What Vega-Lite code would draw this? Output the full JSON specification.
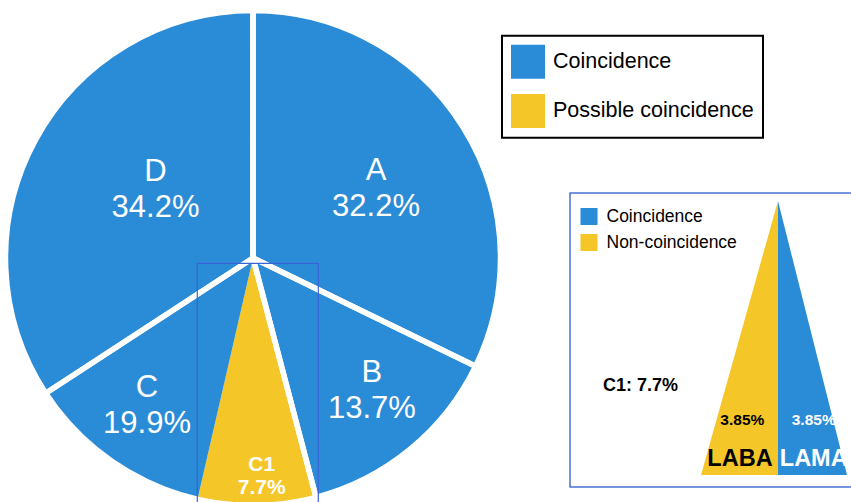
{
  "$schema": "https://vega.github.io/schema/vega-lite/v6.json",
  "width": 851,
  "height": 502,
  "autosize": {"type": "none"},
  "padding": 0,
  "background": "white",
  "config": {
    "view": {"stroke": null},
    "font": "Liberation Sans",
    "text": {"font": "Liberation Sans"},
    "legend": {"strokeWidth": 2, "labelFont": "Liberation Sans"}
  },
  "datasets": {
    "slices": [
      {"slice": "A", "label": "A\n32.2%", "share": 32.2, "type": "Coincidence"},
      {"slice": "B", "label": "B\n13.7%", "share": 13.7, "type": "Coincidence"},
      {"slice": "C1", "label": "C1\n7.7%", "share": 7.7, "type": "Possible coincidence"},
      {"slice": "C2", "label": "C\n19.9%", "share": 12.2, "type": "Coincidence"},
      {"slice": "D", "label": "D\n34.2%", "share": 34.2, "type": "Coincidence"}
    ],
    "groups": [
      {"slice": "A", "share": 32.2},
      {"slice": "B", "share": 13.7},
      {"slice": "C", "share": 19.9},
      {"slice": "D", "share": 34.2}
    ],
    "triangle": [
      {"drug": "LABA", "type": "Non-coincidence", "x": 1.8361, "top": -0.8893, "base": -0.8893},
      {"drug": "LABA", "type": "Non-coincidence", "x": 2.1516, "top": 0.2336, "base": -0.8893},
      {"drug": "LAMA", "type": "Coincidence", "x": 2.1516, "top": 0.2336, "base": -0.8893},
      {"drug": "LAMA", "type": "Coincidence", "x": 2.4344, "top": -0.8893, "base": -0.8893}
    ]
  },
  "resolve": {"scale": {"color": "independent"}, "legend": {"color": "independent"}},
  "layer": [
    {
      "data": {"name": "slices"},
      "mark": {"type": "arc", "outerRadius": 247.5},
      "encoding": {
        "x": {"datum": 0, "type": "quantitative", "scale": {"domain": [-1.0369, 2.4508], "nice": false, "zero": false}, "axis": null},
        "y": {"datum": 0, "type": "quantitative", "scale": {"domain": [-1.0, 1.0574], "nice": false, "zero": false}, "axis": null},
        "theta": {"field": "share", "type": "quantitative", "stack": true},
        "order": {"field": "slice", "type": "ordinal"},
        "detail": {"field": "slice"},
        "color": {
          "field": "type", "type": "nominal",
          "scale": {"domain": ["Coincidence", "Possible coincidence"], "range": ["#2A8BD6", "#F5C628"]},
          "legend": {
            "title": null, "orient": "none", "legendX": 502, "legendY": 35.7,
            "symbolType": "square", "symbolSize": 1156, "symbolStrokeWidth": 0, "symbolOpacity": 1,
            "labelFontSize": 21.5, "labelColor": "black", "labelOffset": 8, "rowPadding": 15.3,
            "padding": 9, "strokeColor": "black", "fillColor": "white", "labelLimit": 400
          }
        }
      }
    },
    {
      "data": {"name": "groups"},
      "mark": {"type": "arc", "outerRadius": 247.5, "filled": false, "stroke": "white", "strokeWidth": 5.5, "strokeJoin": "round"},
      "encoding": {
        "x": {"datum": 0, "type": "quantitative"},
        "y": {"datum": 0, "type": "quantitative"},
        "theta": {"field": "share", "type": "quantitative", "stack": true},
        "order": {"field": "slice", "type": "ordinal"},
        "detail": {"field": "slice"}
      }
    },
    {
      "data": {"name": "slices"},
      "mark": {"type": "text", "radius": 141.4, "dx": 3.2, "dy": -11.7, "fontSize": 31, "lineHeight": 36, "lineBreak": "\n", "color": "white", "align": "center", "baseline": "middle"},
      "encoding": {
        "x": {"datum": 0, "type": "quantitative"},
        "y": {"datum": 0, "type": "quantitative"},
        "theta": {"field": "share", "type": "quantitative", "stack": true},
        "order": {"field": "slice", "type": "ordinal"},
        "detail": {"field": "slice"},
        "text": {"condition": {"test": "datum.slice === 'A'", "field": "label"}, "value": ""}
      }
    },
    {
      "data": {"name": "slices"},
      "mark": {"type": "text", "radius": 177.7, "dx": 6.1, "dy": -22.2, "fontSize": 31, "lineHeight": 36, "lineBreak": "\n", "color": "white", "align": "center", "baseline": "middle"},
      "encoding": {
        "x": {"datum": 0, "type": "quantitative"},
        "y": {"datum": 0, "type": "quantitative"},
        "theta": {"field": "share", "type": "quantitative", "stack": true},
        "order": {"field": "slice", "type": "ordinal"},
        "detail": {"field": "slice"},
        "text": {"condition": {"test": "datum.slice === 'B'", "field": "label"}, "value": ""}
      }
    },
    {
      "data": {"name": "slices"},
      "mark": {"type": "text", "radius": 181, "dx": -2.4, "dy": -18.7, "fontSize": 31, "lineHeight": 36, "lineBreak": "\n", "color": "white", "align": "center", "baseline": "middle"},
      "encoding": {
        "x": {"datum": 0, "type": "quantitative"},
        "y": {"datum": 0, "type": "quantitative"},
        "theta": {"field": "share", "type": "quantitative", "stack": true},
        "order": {"field": "slice", "type": "ordinal"},
        "detail": {"field": "slice"},
        "text": {"condition": {"test": "datum.slice === 'C2'", "field": "label"}, "value": ""}
      }
    },
    {
      "data": {"name": "slices"},
      "mark": {"type": "text", "radius": 119.7, "dx": 7.8, "dy": -29, "fontSize": 31, "lineHeight": 36, "lineBreak": "\n", "color": "white", "align": "center", "baseline": "middle"},
      "encoding": {
        "x": {"datum": 0, "type": "quantitative"},
        "y": {"datum": 0, "type": "quantitative"},
        "theta": {"field": "share", "type": "quantitative", "stack": true},
        "order": {"field": "slice", "type": "ordinal"},
        "detail": {"field": "slice"},
        "text": {"condition": {"test": "datum.slice === 'D'", "field": "label"}, "value": ""}
      }
    },
    {
      "data": {"name": "slices"},
      "mark": {"type": "text", "radius": 216.7, "dx": 5.3, "dy": -9.7, "fontSize": 21, "fontWeight": "bold", "lineHeight": 23.5, "lineBreak": "\n", "color": "white", "align": "center", "baseline": "middle"},
      "encoding": {
        "x": {"datum": 0, "type": "quantitative"},
        "y": {"datum": 0, "type": "quantitative"},
        "theta": {"field": "share", "type": "quantitative", "stack": true},
        "order": {"field": "slice", "type": "ordinal"},
        "detail": {"field": "slice"},
        "text": {"condition": {"test": "datum.slice === 'C1'", "field": "label"}, "value": ""}
      }
    },
    {
      "data": {"values": [{}]},
      "mark": {"type": "rect", "filled": false, "stroke": "#3a63d8", "strokeWidth": 1.2},
      "encoding": {
        "x": {"datum": -0.2283, "type": "quantitative"},
        "x2": {"datum": 0.2676},
        "y": {"datum": -0.0217, "type": "quantitative"},
        "y2": {"datum": -1.06}
      }
    },
    {
      "data": {"values": [{}]},
      "mark": {"type": "rect", "filled": false, "stroke": "#4a72d4", "strokeWidth": 1.5},
      "encoding": {
        "x": {"datum": 1.2992, "type": "quantitative"},
        "x2": {"datum": 2.4877},
        "y": {"datum": 0.2664, "type": "quantitative"},
        "y2": {"datum": -0.9385}
      }
    },
    {
      "data": {"name": "triangle"},
      "mark": {"type": "area", "opacity": 1, "interpolate": "linear"},
      "encoding": {
        "x": {"field": "x", "type": "quantitative"},
        "y": {"field": "top", "type": "quantitative", "stack": null},
        "y2": {"field": "base"},
        "detail": {"field": "drug"},
        "color": {
          "field": "type", "type": "nominal",
          "scale": {"domain": ["Coincidence", "Non-coincidence"], "range": ["#2A8BD6", "#F5C628"]},
          "legend": {
            "title": null, "orient": "none", "legendX": 580, "legendY": 207.5,
            "symbolType": "square", "symbolSize": 290, "symbolStrokeWidth": 0, "symbolOpacity": 1,
            "labelFontSize": 17.5, "labelColor": "black", "labelOffset": 8.5, "rowPadding": 8,
            "padding": 0, "labelLimit": 300
          }
        }
      }
    },
    {
      "data": {"values": [{}]},
      "mark": {"type": "text", "align": "left", "baseline": "alphabetic", "fontSize": 18, "fontWeight": "bold", "color": "black"},
      "encoding": {"x": {"datum": 1.4344, "type": "quantitative"}, "y": {"datum": -0.5451, "type": "quantitative"}, "text": {"value": "C1: 7.7%"}}
    },
    {
      "data": {"values": [{}]},
      "mark": {"type": "text", "align": "center", "baseline": "alphabetic", "fontSize": 15.5, "fontWeight": "bold", "color": "black"},
      "encoding": {"x": {"datum": 2.0053, "type": "quantitative"}, "y": {"datum": -0.6844, "type": "quantitative"}, "text": {"value": "3.85%"}}
    },
    {
      "data": {"values": [{}]},
      "mark": {"type": "text", "align": "center", "baseline": "alphabetic", "fontSize": 15.5, "fontWeight": "bold", "color": "white"},
      "encoding": {"x": {"datum": 2.298, "type": "quantitative"}, "y": {"datum": -0.6844, "type": "quantitative"}, "text": {"value": "3.85%"}}
    },
    {
      "data": {"values": [{}]},
      "mark": {"type": "text", "align": "center", "baseline": "alphabetic", "fontSize": 23.5, "fontWeight": "bold", "color": "black"},
      "encoding": {"x": {"datum": 1.9959, "type": "quantitative"}, "y": {"datum": -0.8525, "type": "quantitative"}, "text": {"value": "LABA"}}
    },
    {
      "data": {"values": [{}]},
      "mark": {"type": "text", "align": "center", "baseline": "alphabetic", "fontSize": 23.5, "fontWeight": "bold", "color": "white"},
      "encoding": {"x": {"datum": 2.298, "type": "quantitative"}, "y": {"datum": -0.8525, "type": "quantitative"}, "text": {"value": "LAMA"}}
    }
  ]
}
